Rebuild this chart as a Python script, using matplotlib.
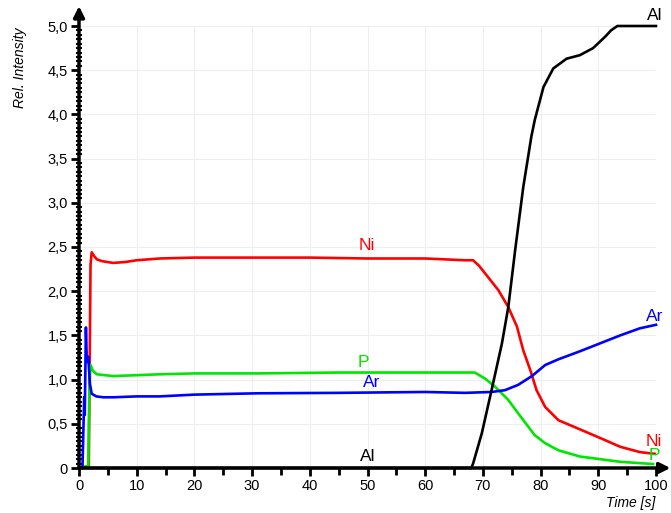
import matplotlib
matplotlib.use("Agg")
import matplotlib.pyplot as plt
from matplotlib.ticker import MultipleLocator, FuncFormatter

plt.rcParams['font.family'] = ['Liberation Sans', 'DejaVu Sans']

# ---- data ----
ni_t = [0, 1.7, 2.0, 2.2, 2.6, 3.1, 4, 5.9, 8, 10, 14, 20, 31, 40, 50, 60, 66.9, 68.3, 69.3, 70.4,
        72.7, 74.4, 75.9, 77.0, 78.2, 79.3, 80.8, 83.1, 86.0, 90.3, 93.8, 97.2, 99.8]
ni_v = [0, 0.02, 2.3, 2.44, 2.40, 2.36, 2.34, 2.32, 2.33, 2.35, 2.37, 2.38, 2.38, 2.38, 2.37, 2.37,
        2.35, 2.35, 2.29, 2.20, 2.01, 1.82, 1.60, 1.33, 1.11, 0.88, 0.69, 0.54, 0.46, 0.34, 0.24, 0.18, 0.16]

p_t = [0, 1.6, 1.8, 2.0, 2.4, 3.1, 4.5, 5.9, 10, 14, 20, 31, 45, 60, 66.9, 68.6, 70.4, 72.1, 74.4,
       76.1, 77.6, 79.0, 80.8, 83.1, 86.8, 90.3, 93.8, 99.5]
p_v = [0, 0.02, 0.9, 1.165, 1.1, 1.06, 1.05, 1.04, 1.05, 1.06, 1.07, 1.07, 1.08, 1.08, 1.08, 1.08,
       1.01, 0.92, 0.77, 0.62, 0.49, 0.37, 0.28, 0.20, 0.13, 0.10, 0.07, 0.045]

ar_t = [0, 0.6, 0.9, 1.0, 1.2, 1.35, 1.6, 1.9, 2.2, 3, 4.2, 6, 10, 14, 20, 31, 45, 60, 66.9, 71.5,
        73.8, 76.1, 78.5, 80.8, 83.1, 86.8, 90.3, 93.8, 97.2, 100]
ar_v = [0, 0.0, 0.8, 0.6, 1.59, 1.2, 1.26, 0.95, 0.84, 0.81, 0.80, 0.80, 0.81, 0.81, 0.83, 0.845,
        0.85, 0.86, 0.85, 0.86, 0.88, 0.94, 1.04, 1.165, 1.23, 1.32, 1.41, 1.50, 1.58, 1.62]

al_t = [0, 68.0, 68.3, 69.8, 71.5, 73.3, 74.4, 75.6, 77.0, 78.4, 79.0, 80.5, 82.2, 84.5, 86.8,
        89.1, 91.2, 92.2, 93.3, 100]
al_v = [0, 0, 0.05, 0.39, 0.88, 1.41, 1.82, 2.47, 3.18, 3.75, 3.94, 4.31, 4.52, 4.63, 4.67,
        4.75, 4.88, 4.95, 5.0, 5.0]

series = [
    ("Ni", ni_t, ni_v, "#ff0000", (49.9, 2.43), (99.6, 0.22)),
    ("P", p_t, p_v, "#00e600", (49.3, 1.11), (99.8, 0.06)),
    ("Ar", ar_t, ar_v, "#0000ff", (50.7, 0.88), (99.8, 1.63)),
    ("Al", al_t, al_v, "#000000", (50.1, 0.04), (99.8, 5.03)),
]

fig = plt.figure(figsize=(6.71, 5.13), dpi=100)
ax = fig.add_axes([79 / 671, 1 - 468 / 513, (656 - 79) / 671, (468 - 26) / 513])

for name, t, v, c, lab1, lab2 in series:
    ax.plot(t, v, color=c, lw=1.9, solid_joinstyle='round', clip_on=False, zorder=3)
    ax.text(lab1[0], lab1[1], name, color=c, fontsize=12.5, ha='center', va='bottom', zorder=4)
    ax.text(lab2[0], lab2[1], name, color=c, fontsize=12.5, ha='center', va='bottom', zorder=4)

ax.set_xlim(0, 100)
ax.set_ylim(0, 5)

ax.xaxis.set_major_locator(MultipleLocator(10))
ax.xaxis.set_minor_locator(MultipleLocator(5))
ax.yaxis.set_major_locator(MultipleLocator(0.5))
ax.yaxis.set_minor_locator(MultipleLocator(0.05))

def yfmt(v, pos):
    if abs(v) < 1e-9:
        return "0"
    return f"{v:.1f}".replace(".", ",")

ax.yaxis.set_major_formatter(FuncFormatter(yfmt))
ax.xaxis.set_major_formatter(FuncFormatter(lambda v, p: f"{int(round(v))}"))

ax.tick_params(axis='both', which='major', direction='out', length=6, width=2, labelsize=10.5, pad=2)
ax.tick_params(axis='y', which='minor', direction='inout', length=4, width=1.5)
ax.tick_params(axis='x', which='minor', direction='out', length=5, width=2)

for s in ax.spines.values():
    s.set_visible(False)

ax.grid(True, which='major', color='#eeeeee', lw=0.8, zorder=0)
ax.set_axisbelow(True)

ax.annotate('', xy=(1.025, 0), xytext=(0, 0), xycoords='axes fraction',
            arrowprops=dict(arrowstyle='-|>', lw=2.5, color='black', mutation_scale=16,
                            shrinkA=0, shrinkB=0), zorder=5)
ax.annotate('', xy=(0, 1.045), xytext=(0, 0), xycoords='axes fraction',
            arrowprops=dict(arrowstyle='-|>', lw=2.5, color='black', mutation_scale=16,
                            shrinkA=0, shrinkB=0), zorder=5)

fig.text(20 / 671, 1 - 68 / 513, "Rel. Intensity", rotation=90, style='italic', fontsize=10,
         ha='center', va='center')
fig.text(655 / 671, 1 - 503 / 513, "Time [s]", style='italic', fontsize=10, ha='right', va='center')

fig.savefig("out.png", dpi=100)
